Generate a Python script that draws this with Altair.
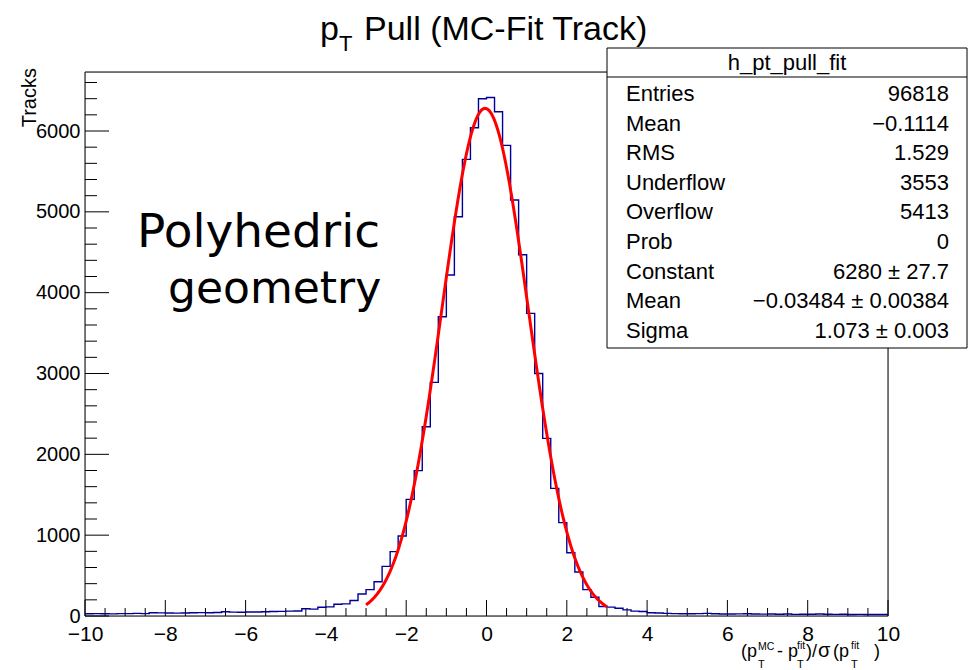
import altair as alt
import pandas as pd

FONT = "Liberation Sans"

# ---------------- data ----------------
BIN_LOW = -10.0
BIN_WIDTH = 0.2
counts = [
    28, 30, 27, 26, 29, 30, 32, 30, 41, 39,
    38, 36, 38, 40, 42, 41, 44, 52, 48, 47,
    50, 49, 52, 55, 57, 60, 62, 90, 85, 108,
    113, 145, 150, 192, 272, 326, 424, 614, 796, 990,
    1443, 1798, 2342, 2890, 3702, 4218, 4939, 5649, 6041, 6400,
    6415, 6239, 5822, 5146, 4470, 3744, 3000, 2198, 1579, 1155,
    783, 544, 326, 232, 118, 110, 95, 76, 60, 55,
    40, 37, 33, 30, 28, 27, 30, 32, 28, 25,
    24, 26, 27, 24, 23, 25, 22, 24, 20, 22,
    21, 25, 22, 20, 21, 19, 20, 18, 19, 18,
]

FIT_CONST = 6280
FIT_MEAN = -0.03484
FIT_SIGMA = 1.073
FIT_LO, FIT_HI = -3.0, 3.0

x_major = [-10, -8, -6, -4, -2, 0, 2, 4, 6, 8, 10]
x_minor = [i * 0.5 for i in range(-20, 21) if i % 4 != 0]
y_major = [0, 1000, 2000, 3000, 4000, 5000, 6000]
y_minor = [i * 200 for i in range(0, 34) if i % 5 != 0]
Y_MAX = 6730

stat_title = "h_pt_pull_fit"
stat_labels = ["Entries", "Mean", "RMS", "Underflow", "Overflow", "Prob",
               "Constant", "Mean", "Sigma"]
stat_values = ["96818", "\u22120.1114", "1.529", "3553", "5413", "0",
               "6280 \u00b1 27.7", "\u22120.03484 \u00b1 0.00384", "1.073 \u00b1 0.003"]

# ---------------- layout ----------------
W, H = 803, 544
L, T = 85, 72

xs = alt.Scale(domain=[-10, 10], nice=False, zero=False)
ys = alt.Scale(domain=[0, Y_MAX], nice=False, zero=False)

x_edges = [round(BIN_LOW + BIN_WIDTH * i, 2) for i in range(len(counts) + 1)]
hist_df = pd.DataFrame({"x": x_edges, "n": counts + [counts[-1]]})

frame = alt.Chart(pd.DataFrame({"a": [0]})).mark_rect(
    fillOpacity=0, stroke="black", strokeWidth=1
).encode(x=alt.value(0), x2=alt.value(W), y=alt.value(0), y2=alt.value(H))

hist = alt.Chart(hist_df).mark_line(
    interpolate="step-after", color="#000099", strokeWidth=1.4
).encode(
    x=alt.X("x:Q", scale=xs, axis=alt.Axis(
        values=x_major, format="d", ticks=False, tickSize=0, domain=False, grid=False,
        labelFont=FONT, labelFontSize=21, labelColor="black", labelPadding=7,
        labelFlush=False, labelOverlap=False, title=None)),
    y=alt.Y("n:Q", scale=ys, axis=alt.Axis(
        values=y_major, format="d", ticks=False, tickSize=0, domain=False, grid=False,
        labelFont=FONT, labelFontSize=20, labelColor="black", labelPadding=5,
        labelFlush=False, labelOverlap=False, title=None)),
)

fit = alt.Chart(alt.sequence(FIT_LO, FIT_HI + 0.001, 0.02, as_="x")).transform_calculate(
    y=f"{FIT_CONST}*exp(-0.5*pow((datum.x-({FIT_MEAN}))/{FIT_SIGMA},2))"
).mark_line(color="#ff0000", strokeWidth=3).encode(
    x=alt.X("x:Q", scale=xs), y=alt.Y("y:Q", scale=ys)
)

def xticks(vals, length):
    return alt.Chart(pd.DataFrame({"v": vals})).mark_rule(color="black", strokeWidth=1).encode(
        x=alt.X("v:Q", scale=xs), y=alt.value(H), y2=alt.value(H - length))

def yticks(vals, length):
    return alt.Chart(pd.DataFrame({"v": vals})).mark_rule(color="black", strokeWidth=1).encode(
        y=alt.Y("v:Q", scale=ys), x=alt.value(0), x2=alt.value(length))

def label(text, px, py, size, align="left", font=FONT, angle=0, baseline="alphabetic"):
    return alt.Chart(pd.DataFrame({"t": [text]})).mark_text(
        align=align, baseline=baseline, font=font, fontSize=size, angle=angle, color="black"
    ).encode(x=alt.value(px - L), y=alt.value(py - T), text="t:N")

# stats box
BOX_X0, BOX_X1, BOX_Y0, BOX_Y1 = 607, 967, 48, 348
box = alt.Chart(pd.DataFrame({"a": [0]})).mark_rect(
    fill="white", stroke="black", strokeWidth=1
).encode(x=alt.value(BOX_X0 - L), x2=alt.value(BOX_X1 - L),
         y=alt.value(BOX_Y0 - T), y2=alt.value(BOX_Y1 - T))
sep = alt.Chart(pd.DataFrame({"a": [0]})).mark_rule(color="black", strokeWidth=1).encode(
    x=alt.value(BOX_X0 - L), x2=alt.value(BOX_X1 - L), y=alt.value(77 - T))

stats_df = pd.DataFrame({"label": stat_labels, "value": stat_values,
                         "row": list(range(len(stat_labels)))})
stats_base = alt.Chart(stats_df).transform_calculate(py=f"{94.0 - T} + 29.6*datum.row")
stats_lab = stats_base.mark_text(align="left", baseline="middle", font=FONT, fontSize=22,
                                 color="black").encode(
    x=alt.value(626 - L), y=alt.Y("py:Q", scale=None, axis=None), text="label:N")
stats_val = stats_base.mark_text(align="right", baseline="middle", font=FONT, fontSize=22,
                                 color="black").encode(
    x=alt.value(949 - L), y=alt.Y("py:Q", scale=None, axis=None), text="value:N")
stats_head = label(stat_title, 787, 63, 22, align="center", baseline="middle")

texts = [
    # title
    label("p", 320, 40, 34),
    label("T", 339, 51, 22),
    label("Pull (MC-Fit Track)", 364, 40, 34),
    # y title
    label("Tracks", 30, 68, 20, align="right", angle=270, baseline="middle"),
    # annotation
    label("Polyhedric", 137, 247, 47, font="DejaVu Sans"),
    label("geometry", 168, 303, 44, font="DejaVu Sans"),
    # x title
    label("(p", 741, 657, 18),
    label("MC", 758, 650, 10.5),
    label("T", 758, 668, 11),
    label("- p", 777, 657, 18),
    label("fit", 797, 649, 10.5),
    label("T", 797, 668, 11),
    label(")/", 806, 657, 18),
    label("\u03c3", 818, 657, 20),
    label("(p", 833, 657, 18),
    label("fit", 851, 649, 10.5),
    label("T", 851, 668, 11),
    label(")", 874, 657, 18),
]

chart = alt.layer(
    frame,
    xticks(x_minor, 8), xticks(x_major, 16),
    yticks(y_minor, 12), yticks(y_major, 24),
    hist, fit,
    box, sep, stats_head, stats_lab, stats_val,
    *texts,
).properties(
    width=W, height=H,
    padding={"left": L, "top": T, "right": 970 - L - W, "bottom": 670 - T - H},
    autosize=alt.AutoSizeParams(type="none"),
).configure_view(stroke="transparent").configure(background="white")

chart.save("out.html", embed_options={"renderer": "svg", "actions": False})
